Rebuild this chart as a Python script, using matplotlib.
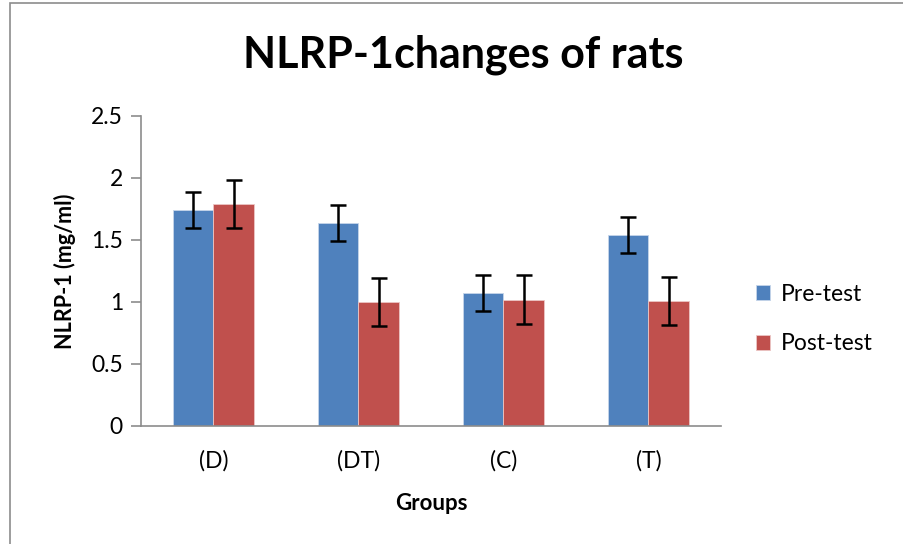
import matplotlib
matplotlib.use('Agg')
import matplotlib.pyplot as plt
import numpy as np
from matplotlib.patches import Rectangle

groups = ['(D)', '(DT)', '(C)', '(T)']
pre_test = [1.74, 1.64, 1.07, 1.54]
post_test = [1.79, 1.00, 1.02, 1.01]
pre_err = [0.145, 0.145, 0.145, 0.145]
post_err = [0.195, 0.195, 0.195, 0.195]

plt.rcParams['font.family'] = ['Lato', 'DejaVu Sans']

fig = plt.figure(figsize=(9.04, 5.44), dpi=100)
ax = fig.add_axes([141 / 904, 118 / 544, 580 / 904, 310 / 544])

# outer chart frame (cut off at right/bottom like the screenshot)
fig.patches.append(Rectangle((10 / 904, -0.1), 1.2, 1.1 - 3 / 544,
                             transform=fig.transFigure, fill=False,
                             edgecolor='#8c8c8c', linewidth=1.2))

x = np.arange(len(groups))
w = 0.28
ekw = dict(elinewidth=1.8, capthick=1.8, ecolor='black')
ax.bar(x - w / 2, pre_test, w, color='#4f81bd', edgecolor='#c6d5ea', linewidth=0.6,
       yerr=pre_err, capsize=6, error_kw=ekw, label='Pre-test')
ax.bar(x + w / 2, post_test, w, color='#c0504d', edgecolor='#ecc6c5', linewidth=0.6,
       yerr=post_err, capsize=6, error_kw=ekw, label='Post-test')

ax.set_xlim(-0.5, 3.5)
ax.set_ylim(0, 2.5)
ax.set_yticks([0, 0.5, 1, 1.5, 2, 2.5])
ax.set_yticklabels(['0', '0.5', '1', '1.5', '2', '2.5'])
ax.set_xticks(x)
ax.set_xticklabels(groups)

for s in ['top', 'right']:
    ax.spines[s].set_visible(False)
for s in ['left', 'bottom']:
    ax.spines[s].set_color('#8c8c8c')
    ax.spines[s].set_linewidth(1.2)
ax.tick_params(axis='y', direction='out', length=7, color='#8c8c8c', width=1.2,
               labelsize=16.5, pad=6)
ax.tick_params(axis='x', length=0, labelsize=16.5, pad=17)

ax.set_xlabel('Groups', fontsize=16, fontweight='bold', labelpad=16)
ax.set_ylabel('NLRP-1 (mg/ml)', fontsize=15.5, fontweight='bold', labelpad=11)

fig.text(463 / 904, 1 - 55 / 544, 'NLRP-1changes of rats', ha='center', va='center',
         fontsize=31, fontweight='bold')

ax.legend(loc='center left', bbox_to_anchor=(1.025, 0.345), frameon=False, fontsize=16.5,
          handlelength=0.6, handleheight=0.6, labelspacing=1.25, handletextpad=0.5)

plt.savefig('out.png', dpi=100)
